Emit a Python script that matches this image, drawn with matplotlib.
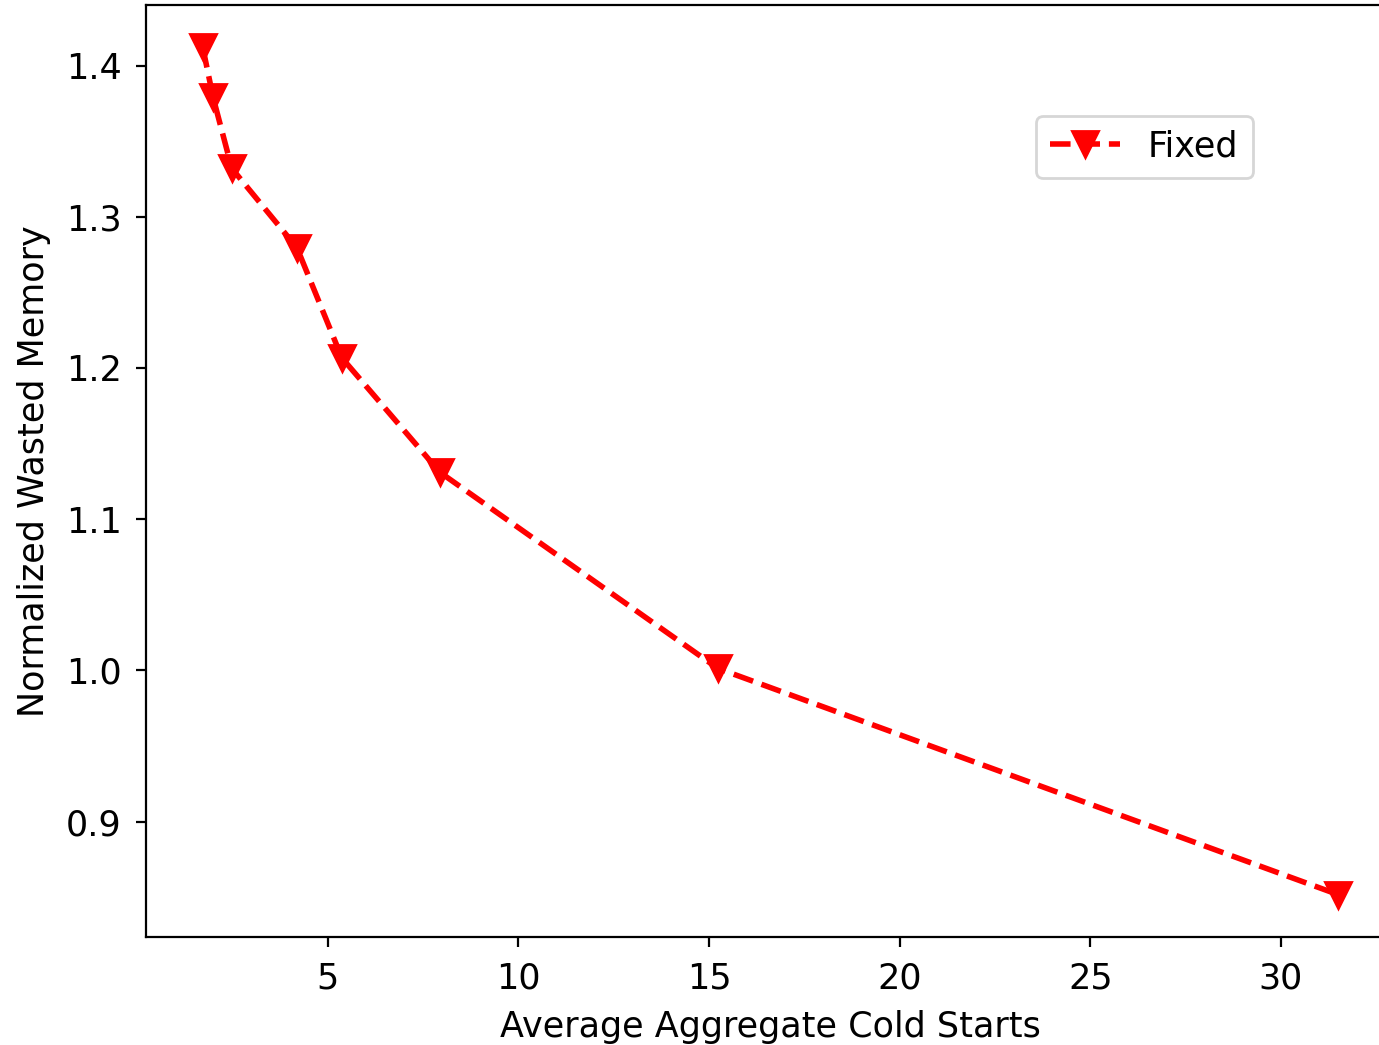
import matplotlib
matplotlib.use("Agg")
import matplotlib.pyplot as plt

cold_starts = [1.72, 1.99, 2.48, 4.19, 5.37, 7.94, 15.23, 31.5]
wasted_memory = [1.412, 1.379, 1.332, 1.2795, 1.2066, 1.131, 1.0013, 0.8517]

plt.rcParams['font.size'] = 12.6
plt.rcParams['xtick.major.pad'] = 5.2
plt.rcParams['ytick.major.pad'] = 5.2

fig = plt.figure(figsize=(6.895, 5.225), dpi=200)
# axes extend past the right edge like the cropped original
ax = fig.add_axes([146 / 1379, 1 - 937 / 1045, 1249 / 1379, 932 / 1045])

ax.plot(cold_starts, wasted_memory, color='red', linestyle='--',
        marker='v', markersize=9.5, linewidth=2, label='Fixed')

ax.set_xlabel('Average Aggregate Cold Starts', labelpad=5.4)
ax.set_ylabel('Normalized Wasted Memory', labelpad=5.3)
ax.legend(loc='upper right', bbox_to_anchor=(0.9, 0.9))

fig.savefig('out.png', dpi=200)
